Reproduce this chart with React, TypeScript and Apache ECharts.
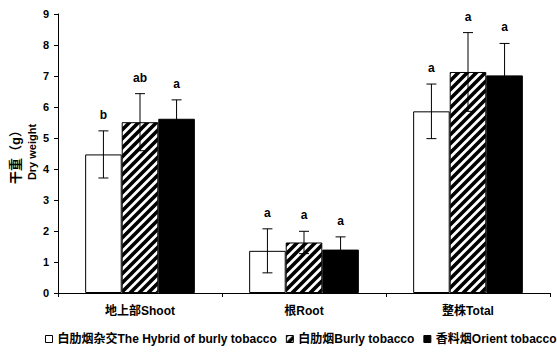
import React, { useEffect, useRef } from "react";
import * as echarts from "echarts";

const categories = ["地上部Shoot", "根Root", "整株Total"];
const seriesNames = [
  "白肋烟杂交The Hybrid of burly tobacco",
  "白肋烟Burly tobacco",
  "香料烟Orient tobacco",
];
const hybridValues = [4.47, 1.36, 5.86];
const burlyValues = [5.51, 1.63, 7.13];
const orientValues = [5.62, 1.4, 7.02];
const hybridErrors = [0.76, 0.71, 0.88];
const burlyErrors = [0.92, 0.36, 1.27];
const orientErrors = [0.61, 0.41, 1.03];
const hybridLetters = ["b", "a", "a"];
const burlyLetters = ["ab", "a", "a"];
const orientLetters = ["a", "a", "a"];
const yMin = 0;
const yMax = 9;
const yInterval = 1;

const FONT = '"Liberation Sans", Arial, "Noto Sans CJK SC", sans-serif';
const BAR_RATIO = 0.223;

function makeHatch(): HTMLCanvasElement {
  const s = 9;
  const c = document.createElement("canvas");
  c.width = s;
  c.height = s;
  const ctx = c.getContext("2d")!;
  ctx.fillStyle = "#fff";
  ctx.fillRect(0, 0, s, s);
  ctx.strokeStyle = "#000";
  ctx.lineWidth = 3.6;
  ctx.beginPath();
  ctx.moveTo(-1, s + 1);
  ctx.lineTo(s + 1, -1);
  ctx.moveTo(-s / 2 - 1, s / 2 + 1);
  ctx.lineTo(s / 2 + 1, -s / 2 - 1);
  ctx.moveTo(s / 2 - 1, (3 * s) / 2 + 1);
  ctx.lineTo((3 * s) / 2 + 1, s / 2 - 1);
  ctx.stroke();
  return c;
}

export default function App() {
  const ref = useRef<HTMLDivElement>(null);
  useEffect(() => {
    if (!ref.current) return;
    const chart = echarts.init(ref.current, undefined, { renderer: "svg" });
    const hatch = makeHatch();
    const values = [hybridValues, burlyValues, orientValues];
    const errors = [hybridErrors, burlyErrors, orientErrors];
    const letters = [hybridLetters, burlyLetters, orientLetters];
    const colors: any[] = [
      "#ffffff",
      { image: hatch, repeat: "repeat", imageWidth: 9, imageHeight: 9 },
      "#000000",
    ];

    const barSeries = seriesNames.map((name, k) => ({
      type: "bar",
      name,
      data: values[k],
      barWidth: BAR_RATIO * 100 + "%",
      barGap: "0%",
      itemStyle: { color: colors[k], borderColor: "#000", borderWidth: 1 },
      z: 2,
    }));

    const errSeries = seriesNames.map((name, k) => ({
      type: "custom",
      name: "err" + k,
      z: 5,
      data: categories.map((_, i) => [i, values[k][i], errors[k][i]]),
      encode: { x: 0, y: 1 },
      renderItem: (params: any, api: any) => {
        const ci = api.value(0);
        const v = api.value(1);
        const e = api.value(2);
        const letter = letters[k][params.dataIndex];
        const catW = api.size([1, 0])[0];
        const bw = catW * BAR_RATIO;
        const center = api.coord([ci, v]);
        const cx = center[0] + (k - 1) * bw;
        const top = api.coord([ci, v + e])[1];
        const bot = api.coord([ci, v - e])[1];
        const cap = 5;
        const st = { stroke: "#000", lineWidth: 1 };
        return {
          type: "group",
          children: [
            { type: "line", shape: { x1: cx, y1: top, x2: cx, y2: bot }, style: st },
            { type: "line", shape: { x1: cx - cap, y1: top, x2: cx + cap, y2: top }, style: st },
            { type: "line", shape: { x1: cx - cap, y1: bot, x2: cx + cap, y2: bot }, style: st },
            {
              type: "text",
              x: cx,
              y: top - 16,
              style: {
                text: letter,
                align: "center",
                verticalAlign: "middle",
                fontSize: 12,
                fontWeight: "bold",
                fontFamily: FONT,
                fill: "#000",
              },
            },
          ],
        };
      },
    }));

    chart.setOption({
      animation: false,
      textStyle: { fontFamily: FONT },
      grid: { left: 58, right: 7, top: 14, bottom: 60 },
      legend: {
        data: seriesNames,
        left: 45,
        top: 333,
        width: 600,
        icon: "rect",
        itemWidth: 7,
        itemHeight: 7,
        itemGap: 9,
        padding: 0,
        itemStyle: { borderColor: "#000", borderWidth: 1 },
        textStyle: { fontSize: 12, fontWeight: "bold", color: "#000", fontFamily: FONT },
        selectedMode: false,
      },
      xAxis: {
        type: "category",
        data: categories,
        axisLine: { lineStyle: { color: "#000", width: 1 } },
        axisTick: { show: true, length: 4, alignWithLabel: false, lineStyle: { color: "#000" } },
        axisLabel: { color: "#000", fontSize: 12, fontWeight: "bold", fontFamily: FONT, margin: 12 },
      },
      yAxis: {
        type: "value",
        min: yMin,
        max: yMax,
        interval: yInterval,
        axisLine: { show: true, lineStyle: { color: "#000", width: 1 } },
        axisTick: { show: true, length: 4, lineStyle: { color: "#000" } },
        splitLine: { show: false },
        axisLabel: { color: "#000", fontSize: 11, fontWeight: "bold", fontFamily: FONT, margin: 9 },
      },
      graphic: [
        {
          type: "text",
          x: 15,
          y: 154,
          rotation: Math.PI / 2,
          style: {
            text: "干重（g）",
            align: "center",
            verticalAlign: "middle",
            fontSize: 13,
            fontWeight: "bold",
            fontFamily: FONT,
            fill: "#000",
          },
        },
        {
          type: "text",
          x: 32,
          y: 152,
          rotation: Math.PI / 2,
          style: {
            text: "Dry weight",
            align: "center",
            verticalAlign: "middle",
            fontSize: 11,
            fontWeight: "bold",
            fontFamily: FONT,
            fill: "#000",
          },
        },
      ],
      series: [...barSeries, ...errSeries],
    });
    return () => chart.dispose();
  }, []);
  return (
    <div
      ref={ref}
      style={{ position: "fixed", left: 0, top: 0, width: 557, height: 353, background: "#fff" }}
    />
  );
}
